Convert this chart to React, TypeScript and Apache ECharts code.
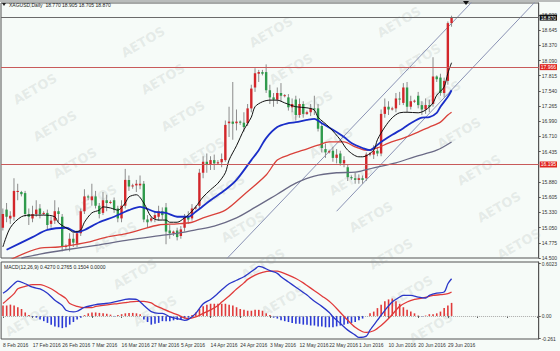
import React, { useEffect, useRef } from 'react';
import * as echarts from 'echarts';

// ---------- data ----------
const dateLabels = ['8 Feb 2016', '17 Feb 2016', '26 Feb 2016', '7 Mar 2016', '16 Mar 2016', '27 Mar 2016', '5 Apr 2016', '14 Apr 2016', '24 Apr 2016', '3 May 2016', '12 May 2016', '22 May 2016', '1 Jun 2016', '10 Jun 2016', '20 Jun 2016', '29 Jun 2016'];
const slotCount = 145; // bars + right chart shift

// [open, high, low, close]
const ohlc = [
  [15.05, 15.40, 15.00, 15.30], [15.38, 15.50, 15.15, 15.25], [15.22, 15.35, 15.12, 15.27], [15.25, 15.95, 15.18, 15.72],
  [15.70, 15.85, 15.55, 15.72], [15.70, 15.72, 15.62, 15.66], [15.68, 15.72, 15.25, 15.30], [15.30, 15.40, 15.10, 15.25],
  [15.22, 15.45, 15.15, 15.30], [15.30, 15.55, 15.25, 15.38], [15.40, 15.48, 15.22, 15.30], [15.30, 15.35, 15.28, 15.32],
  [15.32, 15.38, 15.02, 15.10], [15.12, 15.25, 15.05, 15.18], [15.18, 15.55, 15.12, 15.35], [15.35, 15.42, 15.15, 15.30],
  [15.25, 15.30, 14.62, 14.70], [14.70, 14.75, 14.65, 14.72], [14.72, 14.95, 14.62, 14.85], [14.85, 14.95, 14.70, 14.78],
  [14.76, 15.00, 14.70, 14.95], [14.95, 15.40, 14.90, 15.35], [15.35, 15.75, 15.30, 15.62], [15.62, 15.65, 15.55, 15.60],
  [15.55, 15.85, 15.45, 15.62], [15.62, 15.72, 15.40, 15.45], [15.45, 15.50, 15.22, 15.30], [15.32, 15.70, 15.28, 15.55],
  [15.55, 15.65, 15.35, 15.50], [15.50, 15.55, 15.48, 15.52], [15.55, 15.60, 15.32, 15.38], [15.40, 15.45, 15.15, 15.22],
  [15.22, 15.55, 15.15, 15.45], [15.45, 16.12, 15.40, 15.92], [15.92, 16.00, 15.72, 15.80], [15.80, 15.85, 15.76, 15.82],
  [15.82, 15.92, 15.70, 15.85], [15.82, 16.00, 15.75, 15.85], [15.85, 15.90, 15.15, 15.20], [15.20, 15.28, 15.05, 15.15],
  [15.18, 15.25, 15.15, 15.22], [15.22, 15.35, 15.15, 15.28], [15.25, 15.45, 15.18, 15.35], [15.35, 15.42, 15.20, 15.28],
  [15.42, 15.50, 14.75, 14.98], [15.00, 15.10, 14.85, 14.95], [14.95, 15.00, 14.90, 14.98], [15.00, 15.05, 14.82, 14.88],
  [14.90, 15.08, 14.85, 15.02], [15.05, 15.30, 14.98, 15.25], [15.25, 15.35, 15.12, 15.20], [15.22, 15.48, 15.18, 15.40],
  [15.40, 15.45, 15.38, 15.42], [15.45, 16.12, 15.40, 16.05], [16.05, 16.35, 15.95, 16.25], [16.25, 16.40, 16.05, 16.20],
  [16.20, 16.35, 16.10, 16.28], [16.28, 16.38, 16.10, 16.22], [16.22, 16.28, 16.20, 16.24], [16.24, 16.40, 16.15, 16.30],
  [16.28, 17.00, 16.25, 16.92], [16.95, 17.25, 16.70, 16.98], [16.98, 17.70, 16.65, 16.94], [16.95, 17.20, 16.82, 16.98],
  [16.98, 17.00, 16.92, 16.96], [16.96, 17.15, 16.80, 16.88], [16.95, 17.30, 16.90, 17.22], [17.22, 17.65, 17.15, 17.58],
  [17.60, 17.95, 17.52, 17.86], [17.85, 17.92, 17.70, 17.88], [17.88, 17.92, 17.82, 17.85], [17.88, 18.02, 17.50, 17.55],
  [17.55, 17.65, 17.30, 17.42], [17.42, 17.50, 17.25, 17.38], [17.38, 17.60, 17.30, 17.50], [17.50, 17.68, 17.35, 17.45],
  [17.45, 17.48, 17.42, 17.46], [17.42, 17.48, 17.18, 17.24], [17.24, 17.40, 17.15, 17.30], [17.38, 17.45, 17.00, 17.10],
  [17.10, 17.40, 17.05, 17.30], [17.30, 17.35, 17.05, 17.12], [17.12, 17.18, 17.10, 17.15], [17.15, 17.30, 17.08, 17.22],
  [17.22, 17.45, 17.10, 17.20], [17.22, 17.30, 16.80, 16.85], [16.90, 16.95, 16.42, 16.50], [16.48, 16.58, 16.32, 16.42],
  [16.42, 16.47, 16.40, 16.44], [16.45, 16.52, 16.25, 16.32], [16.32, 16.48, 16.22, 16.38], [16.40, 16.45, 16.18, 16.22],
  [16.22, 16.35, 16.15, 16.28], [16.15, 16.20, 15.90, 15.97], [15.97, 16.00, 15.92, 15.95], [15.95, 16.05, 15.85, 15.92],
  [15.92, 16.02, 15.85, 15.95], [15.95, 16.00, 15.85, 15.92], [15.95, 16.42, 15.90, 16.38], [16.38, 16.42, 16.35, 16.40],
  [16.38, 16.55, 16.30, 16.45], [16.45, 16.52, 16.35, 16.40], [16.40, 17.20, 16.35, 17.12], [17.12, 17.40, 17.05, 17.25],
  [17.25, 17.35, 17.10, 17.20], [17.20, 17.25, 17.18, 17.22], [17.22, 17.50, 17.15, 17.40], [17.40, 17.52, 17.28, 17.38],
  [17.32, 17.68, 17.28, 17.60], [17.60, 17.70, 17.15, 17.25], [17.25, 17.45, 17.20, 17.35], [17.35, 17.38, 17.32, 17.36],
  [17.45, 17.52, 17.22, 17.28], [17.28, 17.35, 17.10, 17.20], [17.20, 17.40, 17.12, 17.28], [17.28, 17.38, 17.15, 17.25],
  [17.30, 18.15, 17.25, 17.80], [17.80, 17.82, 17.70, 17.75], [17.78, 17.85, 17.45, 17.50], [17.50, 17.78, 17.42, 17.72],
  [17.72, 18.80, 17.65, 18.77], [18.77, 18.905, 18.705, 18.87],
];

// moving averages: [bar index, price]
const maFast = [[0, 14.70], [2, 15.05], [5, 15.25], [8, 15.28], [11, 15.28], [14, 15.25], [15, 15.14], [18, 15.01], [19, 14.97], [21, 15.01], [22, 15.15], [24, 15.32], [26, 15.37], [27, 15.43], [29, 15.41], [31, 15.37], [33, 15.50], [34, 15.61], [36, 15.65], [38, 15.50], [40, 15.25], [42, 15.19], [44, 15.19], [45, 15.15], [47, 15.15], [49, 15.23], [50, 15.28], [52, 15.43], [54, 15.61], [56, 15.74], [58, 15.86], [60, 16.05], [61, 16.28], [63, 16.54], [65, 16.83], [67, 17.06], [68, 17.25], [70, 17.34], [72, 17.37], [74, 17.37], [76, 17.32], [79, 17.25], [82, 17.23], [84, 17.19], [85, 17.06], [88, 16.88], [91, 16.65], [93, 16.46], [96, 16.34], [97, 16.34], [100, 16.46], [101, 16.65], [103, 16.88], [105, 17.05], [107, 17.14], [109, 17.15], [112, 17.14], [114, 17.19], [116, 17.32], [117, 17.46], [119, 17.61], [120, 17.86], [121, 18.05]];
const maMid = [[1, 14.65], [8, 14.88], [12, 15.01], [17, 15.05], [20, 14.97], [22, 15.01], [26, 15.15], [30, 15.25], [34, 15.37], [37, 15.43], [41, 15.34], [44, 15.32], [47, 15.25], [50, 15.25], [52, 15.34], [56, 15.55], [60, 15.74], [63, 15.92], [67, 16.28], [69, 16.46], [71, 16.68], [74, 16.88], [77, 16.95], [79, 16.97], [82, 17.01], [84, 17.03], [86, 16.95], [89, 16.83], [92, 16.70], [94, 16.59], [97, 16.50], [99, 16.46], [100, 16.50], [102, 16.61], [105, 16.74], [108, 16.86], [110, 16.95], [113, 17.05], [115, 17.06], [117, 17.14], [118, 17.25], [120, 17.43], [121, 17.55]];
const maSlow = [[0, 14.40], [10, 14.68], [15, 14.70], [20, 14.75], [23, 14.79], [28, 14.88], [33, 14.94], [37, 15.01], [42, 15.10], [47, 15.12], [51, 15.15], [54, 15.23], [60, 15.37], [65, 15.65], [71, 16.01], [74, 16.28], [77, 16.37], [81, 16.46], [85, 16.55], [88, 16.61], [92, 16.61], [95, 16.52], [98, 16.46], [101, 16.50], [104, 16.59], [108, 16.68], [112, 16.79], [115, 16.88], [118, 16.97], [120, 17.10], [121, 17.15]];
const maLong = [[5, 14.50], [10, 14.57], [17, 14.65], [26, 14.74], [34, 14.83], [44, 14.92], [49, 14.97], [52, 15.01], [57, 15.08], [63, 15.23], [68, 15.42], [74, 15.66], [79, 15.86], [84, 15.99], [90, 16.05], [95, 16.06], [100, 16.14], [106, 16.23], [111, 16.34], [117, 16.46], [121, 16.61]];

// channel lines: [bar index, price]
const channelUpper = [[60, 14.46], [127, 19.19]];
const channelLower = [[90, 15.35], [144, 19.19]];

const levels = [17.966, 16.195];
const bidPrice = 18.87;
const priceTicks = [14.5, 14.775, 15.05, 15.33, 15.605, 15.88, 16.435, 16.71, 16.99, 17.265, 17.54, 17.815, 18.09, 18.37, 18.645, 18.92];

// MACD
const macdLine = [[0, 0.26], [1, 0.29], [3, 0.37], [4, 0.40], [6, 0.37], [8, 0.33], [10, 0.31], [12, 0.26], [14, 0.18], [16, 0.12], [17, 0.065], [19, 0.046], [20, 0.054], [22, 0.10], [24, 0.12], [25, 0.13], [27, 0.14], [29, 0.15], [31, 0.17], [33, 0.19], [34, 0.195], [36, 0.19], [38, 0.12], [40, 0.05], [42, 0.03], [43, 0.03], [45, -0.01], [47, -0.03], [49, -0.05], [50, -0.04], [52, 0.03], [54, 0.14], [56, 0.19], [58, 0.26], [59, 0.30], [61, 0.37], [63, 0.41], [65, 0.45], [66, 0.48], [68, 0.54], [69, 0.57], [70, 0.56], [72, 0.52], [74, 0.49], [75, 0.45], [77, 0.39], [79, 0.33], [81, 0.27], [82, 0.24], [84, 0.17], [86, 0.11], [88, 0.04], [89, -0.01], [91, -0.087], [93, -0.163], [95, -0.22], [96, -0.247], [98, -0.232], [99, -0.163], [101, -0.049], [103, 0.065], [105, 0.16], [107, 0.217], [108, 0.236], [110, 0.236], [112, 0.217], [114, 0.206], [115, 0.236], [117, 0.263], [119, 0.275], [120, 0.37], [121, 0.427]];
const signalLine = [[0, 0.142], [1, 0.179], [3, 0.256], [4, 0.313], [6, 0.34], [8, 0.36], [10, 0.36], [11, 0.35], [13, 0.313], [15, 0.256], [17, 0.199], [18, 0.142], [20, 0.11], [22, 0.095], [24, 0.095], [25, 0.11], [27, 0.122], [29, 0.133], [31, 0.142], [33, 0.152], [34, 0.16], [36, 0.168], [38, 0.168], [40, 0.149], [41, 0.122], [43, 0.084], [45, 0.046], [47, 0.015], [49, -0.023], [50, -0.03], [52, -0.011], [54, 0.03], [56, 0.07], [58, 0.12], [59, 0.16], [61, 0.23], [63, 0.31], [65, 0.38], [66, 0.42], [68, 0.47], [70, 0.50], [72, 0.515], [74, 0.515], [75, 0.503], [77, 0.47], [79, 0.43], [81, 0.38], [82, 0.35], [84, 0.29], [86, 0.23], [88, 0.17], [89, 0.13], [91, 0.04], [93, -0.05], [95, -0.13], [97, -0.182], [98, -0.19], [100, -0.17], [102, -0.11], [104, -0.03], [106, 0.065], [107, 0.11], [109, 0.16], [111, 0.19], [113, 0.206], [115, 0.225], [116, 0.236], [118, 0.244], [120, 0.256], [121, 0.275]];
const macdHist = [
  0.12, 0.12, 0.13, 0.12, 0.10, 0.08, 0.04, 0.01, -0.01, -0.02, -0.04, -0.06, -0.08, -0.10, -0.12, -0.13,
  -0.14, -0.13, -0.10, -0.07, -0.04, -0.02, 0.01, 0.03, 0.04, 0.04, 0.035, 0.03, 0.025, 0.015, -0.005, 0.01,
  0.02, 0.03, 0.035, 0.035, 0.03, 0.02, -0.04, -0.07, -0.10, -0.09, -0.08, -0.06, -0.06, -0.06, -0.05, -0.045,
  -0.04, -0.03, -0.02, 0.01, 0.04, 0.08, 0.11, 0.13, 0.14, 0.14, 0.14, 0.14, 0.14, 0.13, 0.12, 0.10,
  0.08, 0.07, 0.06, 0.06, 0.07, 0.07, 0.06, 0.03, 0.01, -0.02, -0.03, -0.05, -0.06, -0.07, -0.08, -0.09,
  -0.09, -0.10, -0.10, -0.11, -0.11, -0.12, -0.12, -0.13, -0.13, -0.13, -0.12, -0.11, -0.10, -0.09, -0.08, -0.07,
  -0.05, -0.03, 0.0, 0.03, 0.05, 0.09, 0.13, 0.17, 0.19, 0.20, 0.17, 0.14, 0.10, 0.07, 0.05, 0.03,
  0.005, -0.005, 0.005, 0.02, 0.02, 0.03, 0.05, 0.09, 0.12, 0.15,
];
const macdTicks = [-0.261, 0, 0.6023];

const FONT = 'Liberation Sans';

export default function App() {
  const ref = useRef<HTMLDivElement>(null);
  useEffect(() => {
    if (!ref.current) return;
    const chart = echarts.init(ref.current, undefined, { renderer: 'svg' });
    const cats = Array.from({ length: slotCount }, (_, i) => String(i));

    const watermarks: any[] = [];
    for (let r = -1; r < 9; r++) {
      for (let k = -1; k < 6; k++) {
        const x = 15 + 20 * r + 128 * k;
        const y = 52 + 37 * r - 10 * k;
        if (x < 22 || x > 532 || y < 16 || y > 335) continue;
        watermarks.push({
          type: 'text', x, y, rotation: Math.PI / 6, z: 1, silent: true,
          style: {
            text: 'AETOS', fontSize: 13, fontWeight: 'bold', fontFamily: 'DejaVu Sans',
            fill: 'rgba(140,150,150,0.17)', align: 'center', verticalAlign: 'middle',
          },
        });
      }
    }

    const maSeries = (data: number[][], color: string, width: number) => ({
      type: 'line', xAxisIndex: 0, yAxisIndex: 0, data, symbol: 'none', smooth: 0.3,
      lineStyle: { color, width }, z: 6, silent: true,
    });

    // horizontal level: full-width line with a price box on the axis
    const levelSeries = (val: number, lineColor: string, bg: string) => ({
      type: 'line', xAxisIndex: 0, yAxisIndex: 0, z: 8, silent: true, data: [],
      markLine: {
        silent: true, symbol: 'none', animation: false, z: 8,
        lineStyle: { color: lineColor, width: 1, type: 'solid' },
        label: {
          show: true, position: 'end', formatter: val.toFixed(3), backgroundColor: bg, color: '#ffffff',
          fontSize: 5, fontFamily: FONT, padding: [1, 1, 0, 1], distance: 1,
        },
        data: [{ yAxis: val }],
      },
    });

    const option: any = {
      animation: false,
      backgroundColor: '#f6fbf8',
      grid: [
        { left: 1, right: 18, top: 3, height: 255, show: true, borderColor: '#555', borderWidth: 1, backgroundColor: 'transparent' },
        { left: 1, right: 18, top: 262, height: 77, show: true, borderColor: '#555', borderWidth: 1, backgroundColor: 'transparent' },
      ],
      xAxis: [
        {
          type: 'category', gridIndex: 0, data: cats, boundaryGap: true,
          axisLine: { show: false }, axisTick: { show: false }, axisLabel: { show: false }, splitLine: { show: false },
        },
        {
          type: 'category', gridIndex: 1, data: cats, boundaryGap: true,
          axisLine: { show: false },
          axisTick: { show: true, interval: 7, alignWithLabel: true, length: 2, lineStyle: { color: '#555' } },
          axisLabel: {
            interval: 7, fontSize: 5, fontFamily: FONT, color: '#333', align: 'left', margin: 3,
            formatter: (_v: string, idx: number) => dateLabels[idx / 8] ?? '',
          },
          splitLine: { show: false },
        },
      ],
      yAxis: [
        {
          type: 'value', gridIndex: 0, position: 'right', min: 14.5, max: 19.136,
          splitLine: { show: false },
          axisLine: { show: true, lineStyle: { color: '#555' } },
          axisTick: { show: true, length: 2, customValues: priceTicks, lineStyle: { color: '#555' } },
          axisLabel: { customValues: priceTicks, formatter: (v: number) => v.toFixed(3), fontSize: 5, fontFamily: FONT, color: '#333', margin: 3 },
        },
        {
          type: 'value', gridIndex: 1, position: 'right', min: -0.265, max: 0.62,
          splitLine: { show: false },
          axisLine: { show: true, lineStyle: { color: '#555' } },
          axisTick: { show: true, length: 2, customValues: macdTicks, lineStyle: { color: '#555' } },
          axisLabel: { customValues: macdTicks, formatter: (v: number) => (v === 0 ? '0.00' : String(v)), fontSize: 5, fontFamily: FONT, color: '#333', margin: 3 },
        },
      ],
      graphic: [
        { type: 'rect', shape: { x: 0, y: 0, width: 560, height: 2 }, style: { fill: '#b9bcbb' }, z: 0, silent: true },
        ...watermarks,
        { type: 'polygon', shape: { points: [[2, 3], [6, 3], [4, 6]] }, style: { fill: '#222' }, z: 20 },
        { type: 'text', x: 9, y: 5, z: 20, style: { text: 'XAGUSD,Daily  18.770 18.905 18.705 18.870', fontSize: 5, fontFamily: FONT, fill: '#222', verticalAlign: 'middle' } },
        { type: 'polygon', shape: { points: [[463, 1], [469, 1], [466, 5]] }, style: { fill: '#111' }, z: 20 },
        { type: 'text', x: 4, y: 267, z: 20, style: { text: 'MACD(12,26,9) 0.4270 0.2765 0.1504 0.0000', fontSize: 5, fontFamily: FONT, fill: '#222', verticalAlign: 'middle' } },
      ],
      series: [
        {
          type: 'custom', xAxisIndex: 0, yAxisIndex: 0, z: 5, clip: true,
          encode: { x: 0, y: [1, 2, 3, 4] },
          data: ohlc.map((d, i) => [i, d[0], d[1], d[2], d[3]]),
          renderItem: (_params: any, api: any) => {
            const i = api.value(0);
            const o = api.value(1), h = api.value(2), l = api.value(3), c = api.value(4);
            const pO = api.coord([i, o]);
            const pC = api.coord([i, c]);
            const pH = api.coord([i, h]);
            const pL = api.coord([i, l]);
            const w = 2.4;
            const up = c >= o;
            const top = Math.min(pO[1], pC[1]);
            const hgt = Math.max(Math.abs(pO[1] - pC[1]), 1);
            return {
              type: 'group',
              children: [
                { type: 'line', shape: { x1: pH[0], y1: pH[1], x2: pL[0], y2: pL[1] }, style: { stroke: '#8c8c8c', lineWidth: 1 } },
                { type: 'rect', shape: { x: pO[0] - w / 2, y: top, width: w, height: hgt }, style: { fill: up ? '#d3262a' : '#2f9a4c' } },
              ],
            };
          },
        },
        maSeries(maLong, '#6a6a86', 1.3),
        maSeries(maSlow, '#d9413a', 1.3),
        maSeries(maMid, '#1a2ec8', 1.8),
        maSeries(maFast, '#111111', 1),
        { type: 'line', xAxisIndex: 0, yAxisIndex: 0, data: channelUpper, symbol: 'none', lineStyle: { color: '#8a92b4', width: 1 }, z: 4, silent: true },
        { type: 'line', xAxisIndex: 0, yAxisIndex: 0, data: channelLower, symbol: 'none', lineStyle: { color: '#8a92b4', width: 1 }, z: 4, silent: true },
        levelSeries(levels[0], '#c85a5a', '#e0261f'),
        levelSeries(levels[1], '#c85a5a', '#e0261f'),
        levelSeries(bidPrice, '#6a6a6a', '#111111'),
        {
          type: 'bar', xAxisIndex: 1, yAxisIndex: 1, barWidth: 1.6, z: 4, silent: true,
          data: macdHist.map((v) => ({ value: v, itemStyle: { color: v >= 0 ? '#e03a3a' : '#2a3ad6' } })),
          markLine: {
            silent: true, symbol: 'none', animation: false,
            data: [{ yAxis: 0 }],
            lineStyle: { color: '#aaaaaa', type: 'dotted', width: 1 },
            label: { show: false },
          },
        },
        { type: 'line', xAxisIndex: 1, yAxisIndex: 1, data: signalLine, symbol: 'none', smooth: 0.3, lineStyle: { color: '#e03a3a', width: 1.3 }, z: 5, silent: true },
        { type: 'line', xAxisIndex: 1, yAxisIndex: 1, data: macdLine, symbol: 'none', smooth: 0.3, lineStyle: { color: '#2a36c8', width: 1.3 }, z: 6, silent: true },
      ],
    };
    chart.setOption(option);
    return () => chart.dispose();
  }, []);
  return <div ref={ref} style={{ position: 'fixed', left: 0, top: 0, width: 560, height: 351 }} />;
}
